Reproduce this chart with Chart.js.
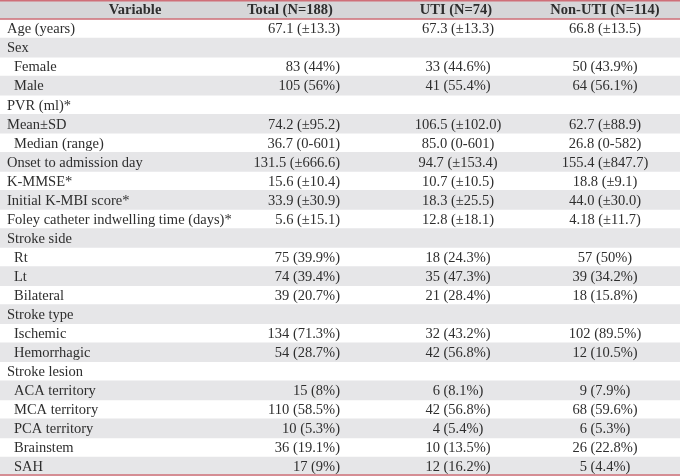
<!DOCTYPE html>
<html>
<head>
<meta charset="utf-8">
<script src="https://cdn.jsdelivr.net/npm/chart.js@4"></script>
<style>
  html, body { margin: 0; padding: 0; background: #fff; }
</style>
</head>
<body>
<canvas id="tbl" width="680" height="476"></canvas>
<script>
// table content
var headers = ["Variable", "Total (N=188)", "UTI (N=74)", "Non-UTI (N=114)"];
var variables = ["Age (years)", "Sex", "Female", "Male", "PVR (ml)*", "Mean\u00b1SD", "Median (range)",
  "Onset to admission day", "K-MMSE*", "Initial K-MBI score*", "Foley catheter indwelling time (days)*",
  "Stroke side", "Rt", "Lt", "Bilateral", "Stroke type", "Ischemic", "Hemorrhagic",
  "Stroke lesion", "ACA territory", "MCA territory", "PCA territory", "Brainstem", "SAH"];
var subLevel = [0, 0, 1, 1, 0, 0, 1, 0, 0, 0, 0, 0, 1, 1, 1, 0, 1, 1, 0, 1, 1, 1, 1, 1];
var total = ["67.1 (\u00b113.3)", "", "83 (44%)", "105 (56%)", "", "74.2 (\u00b195.2)", "36.7 (0-601)",
  "131.5 (\u00b1666.6)", "15.6 (\u00b110.4)", "33.9 (\u00b130.9)", "5.6 (\u00b115.1)",
  "", "75 (39.9%)", "74 (39.4%)", "39 (20.7%)", "", "134 (71.3%)", "54 (28.7%)",
  "", "15 (8%)", "110 (58.5%)", "10 (5.3%)", "36 (19.1%)", "17 (9%)"];
var uti = ["67.3 (\u00b113.3)", "", "33 (44.6%)", "41 (55.4%)", "", "106.5 (\u00b1102.0)", "85.0 (0-601)",
  "94.7 (\u00b1153.4)", "10.7 (\u00b110.5)", "18.3 (\u00b125.5)", "12.8 (\u00b118.1)",
  "", "18 (24.3%)", "35 (47.3%)", "21 (28.4%)", "", "32 (43.2%)", "42 (56.8%)",
  "", "6 (8.1%)", "42 (56.8%)", "4 (5.4%)", "10 (13.5%)", "12 (16.2%)"];
var nonUti = ["66.8 (\u00b113.5)", "", "50 (43.9%)", "64 (56.1%)", "", "62.7 (\u00b188.9)", "26.8 (0-582)",
  "155.4 (\u00b1847.7)", "18.8 (\u00b19.1)", "44.0 (\u00b130.0)", "4.18 (\u00b111.7)",
  "", "57 (50%)", "39 (34.2%)", "18 (15.8%)", "", "102 (89.5%)", "12 (10.5%)",
  "", "9 (7.9%)", "68 (59.6%)", "6 (5.3%)", "26 (22.8%)", "5 (4.4%)"];

// layout (x scale runs 0..680 across the table)
var WIDTH = 680;
var colX = { label: 7, indent: 14, total: 340, uti: 458, nonUti: 605 };
var headX = [135, 290, 456, 605];
var FONT = '"Liberation Serif", "DejaVu Serif", serif';
var TEXT = '#2e2e2e';
var RED = '#cf6f78';

var rows = [""].concat(variables);
// row 0 is the header band, then every second row gets the grey band
var bands = rows.map(function (r, i) { return (i === 0 || i % 2 === 0) ? WIDTH : null; });
var bandColors = rows.map(function (r, i) { return i === 0 ? '#d6d6d8' : '#e6e6e8'; });

var tableText = {
  id: 'tableText',
  afterDatasetsDraw: function (chart) {
    var c = chart.ctx, xs = chart.scales.x, ys = chart.scales.y;
    var half = (ys.getPixelForValue(1) - ys.getPixelForValue(0)) / 2;
    c.save();
    c.fillStyle = TEXT;
    c.textBaseline = 'middle';

    // header
    c.font = 'bold 14.5px ' + FONT;
    c.textAlign = 'center';
    var y0 = ys.getPixelForValue(0) + 1;
    headers.forEach(function (h, j) { c.fillText(h, xs.getPixelForValue(headX[j]), y0); });

    c.font = '14.5px ' + FONT;
    variables.forEach(function (v, i) {
      var y = ys.getPixelForValue(i + 1) + 1;
      c.textAlign = 'left';
      c.fillText(v, xs.getPixelForValue(subLevel[i] ? colX.indent : colX.label), y);
      c.textAlign = 'right';
      c.fillText(total[i], xs.getPixelForValue(colX.total), y);
      c.textAlign = 'center';
      c.fillText(uti[i], xs.getPixelForValue(colX.uti), y);
      c.fillText(nonUti[i], xs.getPixelForValue(colX.nonUti), y);
    });

    // red rules: top, under header, bottom
    c.strokeStyle = RED;
    c.lineWidth = 1.5;
    var lines = [ys.getPixelForValue(0) - half + 0.75,
                 ys.getPixelForValue(0) + half,
                 ys.getPixelForValue(rows.length - 1) + half - 1];
    lines.forEach(function (ly) {
      c.beginPath();
      c.moveTo(xs.getPixelForValue(0), ly);
      c.lineTo(xs.getPixelForValue(WIDTH), ly);
      c.stroke();
    });
    c.restore();
  }
};

new Chart(document.getElementById('tbl'), {
  type: 'bar',
  data: {
    labels: rows,
    datasets: [{
      data: bands,
      backgroundColor: bandColors,
      barPercentage: 1,
      categoryPercentage: 1,
      borderWidth: 0
    }]
  },
  options: {
    indexAxis: 'y',
    responsive: false,
    animation: false,
    layout: { padding: 0 },
    scales: {
      x: { type: 'linear', min: 0, max: WIDTH, display: false },
      y: { display: false }
    },
    plugins: { legend: { display: false }, tooltip: { enabled: false } }
  },
  plugins: [tableText]
});
</script>
</body>
</html>
